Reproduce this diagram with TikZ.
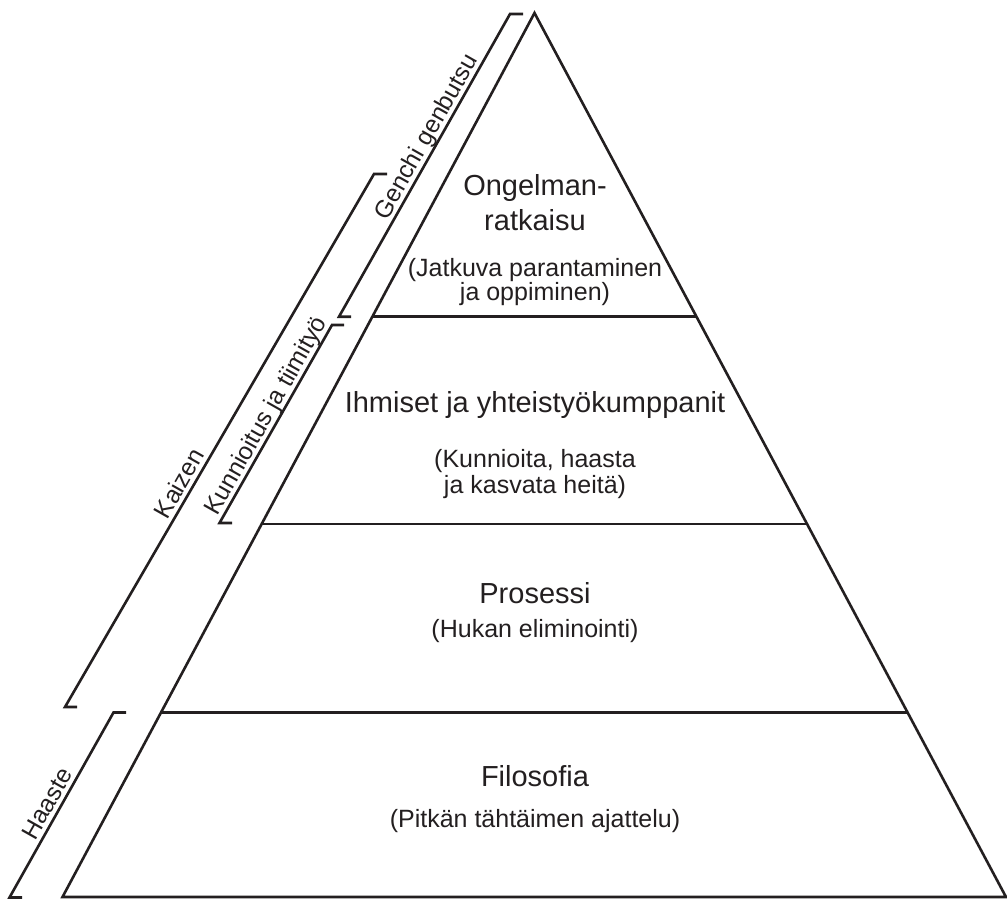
\documentclass[tikz,border=0pt]{standalone}
\usepackage{fontspec}
\setmainfont{Liberation Sans}
\usetikzlibrary{calc}
\definecolor{ink}{RGB}{35,31,32}
\begin{document}
\begin{tikzpicture}[x=1pt,y=-1pt,
  edge/.style={draw=ink,line width=2.6pt,line join=miter},
  heading/.style={font=\fontsize{29}{34}\selectfont,text=ink,anchor=base,inner sep=0pt},
  sub/.style={font=\fontsize{25}{25}\selectfont,text=ink,anchor=base,inner sep=0pt},
  side/.style={font=\fontsize{24.5}{25}\selectfont,text=ink,anchor=base,inner sep=0pt,rotate=60.5}]
\useasboundingbox (0,0) rectangle (1007,900);

% pyramid corners
\coordinate (apex) at (534.5,13);
\coordinate (bl) at (62.5,897);
\coordinate (br) at (1006,897);
% tier boundaries
\coordinate (t1l) at (372.5,316.7);  \coordinate (t1r) at (696.5,316.7);
\coordinate (t2l) at (261.9,524);    \coordinate (t2r) at (807.1,524);
\coordinate (t3l) at (161.4,712.5);  \coordinate (t3r) at (907.6,712.5);

\draw[edge] (bl) -- (apex) -- (br) -- cycle;
\draw[edge] (t1l) -- (t1r);
\draw[edge] (t2l) -- (t2r);
\draw[edge] (t3l) -- (t3r);

% side brackets
\coordinate (gt) at (510,14);     \coordinate (gt2) at (523,14);
\coordinate (gb) at (339,316.7);  \coordinate (gb2) at (351,316.7);
\coordinate (kt) at (374,174);    \coordinate (kt2) at (387,174);
\coordinate (kb) at (65,707);     \coordinate (kb2) at (77,707);
\coordinate (ut) at (332,325);    \coordinate (ut2) at (344,325);
\coordinate (ub) at (219.5,523);  \coordinate (ub2) at (232,523);
\coordinate (ht) at (113.5,712.5);\coordinate (ht2) at (126,712.5);
\coordinate (hb) at (9.5,897.5);  \coordinate (hb2) at (22,897.5);

\draw[edge] (gt2) -- (gt) -- (gb) -- (gb2);
\draw[edge] (kt2) -- (kt) -- (kb) -- (kb2);
\draw[edge] (ut2) -- (ut) -- (ub) -- (ub2);
\draw[edge] (ht2) -- (ht) -- (hb) -- (hb2);

\node[side] (lgenchi) at (432.7,140.5) {Genchi genbutsu};
\node[side] (lkaizen) at (186.4,487.6) {Kaizen};
\node[side] (lkunn) at (272.6,419.5) {Kunnioitus ja tiimityö};
\node[side] (lhaaste) at (54.4,807.5) {Haaste};

% tier texts
\node[heading] (h1a) at (535,195.7) {Ongelman-};
\node[heading] (h1b) at (535,230) {ratkaisu};
\node[sub] (s1a) at (535,276) {(Jatkuva parantaminen};
\node[sub] (s1b) at (535,300) {ja oppiminen)};

\node[heading] (h2) at (535,412.3) {Ihmiset ja yhteistyökumppanit};
\node[sub] (s2a) at (535,467) {(Kunnioita, haasta};
\node[sub] (s2b) at (535,493) {ja kasvata heitä)};

\node[heading] (h3) at (535,603.3) {Prosessi};
\node[sub] (s3) at (535,637.7) {(Hukan eliminointi)};

\node[heading] (h4) at (535,786.7) {Filosofia};
\node[sub] (s4) at (535,827) {(Pitkän tähtäimen ajattelu)};
\end{tikzpicture}
\end{document}
